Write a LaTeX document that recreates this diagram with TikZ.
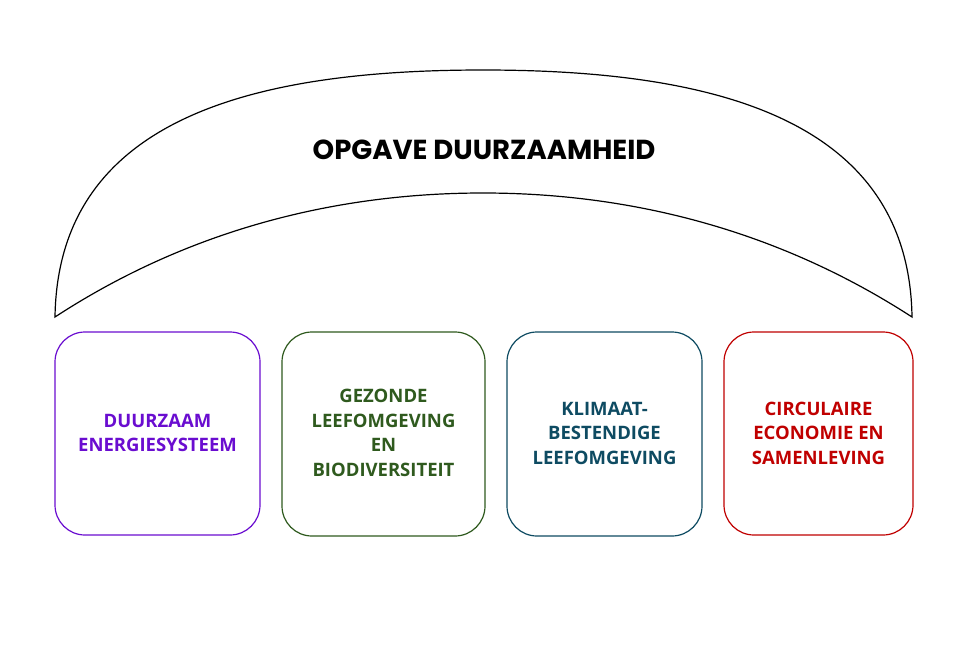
\documentclass[tikz,border=0pt]{standalone}
\usepackage{fontspec}
\setmainfont{Open Sans}
\newfontfamily\titlefont{Poppins}
\definecolor{cpurple}{HTML}{6A0DD0}
\definecolor{cgreen}{HTML}{2F5A1E}
\definecolor{cteal}{HTML}{0E4B62}
\definecolor{cred}{HTML}{C00000}
\begin{document}
\begin{tikzpicture}[x=1pt,y=-1pt,
  card/.style={draw,line width=1.2pt,rounded corners=30pt},
  lbl/.style={align=center,inner sep=0pt,font=\fontsize{18.5}{24.5}\selectfont\bfseries}]
\useasboundingbox[fill=white] (0,0) rectangle (971,659);
\draw[line width=1.2pt] (55,317) .. controls (58,115) and (260,70) .. (483,70)
  .. controls (706,70) and (909,115) .. (912,317)
  .. controls (770,225) and (620,193) .. (483,193)
  .. controls (346,193) and (196,225) .. (55,317) -- cycle;
\node (title) at (484,150) {\titlefont\fontsize{27.5}{32}\selectfont\bfseries OPGAVE DUURZAAMHEID};
\draw[card,draw=cpurple] (55,332) rectangle (260,535);
\node[lbl,text=cpurple] (b1) at (157.5,433) {DUURZAAM\\ENERGIESYSTEEM};
\draw[card,draw=cgreen] (282,332) rectangle (485,536);
\node[lbl,text=cgreen] (b2) at (383.5,433) {GEZONDE\\LEEFOMGEVING\\EN\\BIODIVERSITEIT};
\draw[card,draw=cteal] (507,332) rectangle (702,536);
\node[lbl,text=cteal] (b3) at (604.5,433) {KLIMAAT-\\BESTENDIGE\\LEEFOMGEVING};
\draw[card,draw=cred] (724,332) rectangle (913,535);
\node[lbl,text=cred] (b4) at (818.5,433) {CIRCULAIRE\\ECONOMIE EN\\SAMENLEVING};
\end{tikzpicture}
\end{document}
